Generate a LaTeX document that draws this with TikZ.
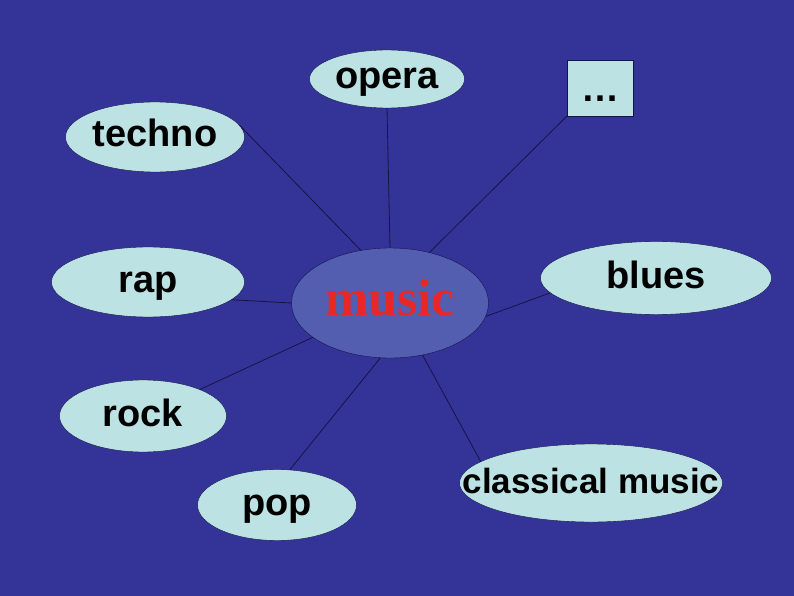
\documentclass[tikz,border=0pt]{standalone}
\usepackage{fontspec}
\setmainfont{Liberation Sans}
\newfontfamily\serifbold{Liberation Serif}
\usetikzlibrary{shapes.geometric,positioning}
\definecolor{bgcol}{RGB}{52,52,152}
\definecolor{leafcol}{RGB}{188,226,228}
\definecolor{hubcol}{RGB}{84,94,176}
\definecolor{hubtext}{RGB}{232,40,40}
\definecolor{edgecol}{RGB}{20,20,70}
\newcommand\tag[1]{\makebox[0pt]{#1}}

\begin{document}
\begin{tikzpicture}[
   x=1pt, y=-1pt,
   leaf/.style={ellipse, draw=edgecol, fill=leafcol, inner sep=0pt,
                text height=20pt, text depth=0pt,
                font=\fontsize{38}{40}\selectfont\bfseries, text=black},
   link/.style={draw=edgecol, line width=0.8pt},
]
% background
\fill[bgcol] (0,0) rectangle (794,596);
\useasboundingbox (0,0) rectangle (794,596);
% hub
\node[ellipse, draw=edgecol, fill=hubcol, minimum width=197, minimum height=110,
      inner sep=0pt, text height=24pt, text depth=0pt, text=hubtext,
      font=\fontsize{52}{54}\serifbold\bfseries] (music) at (390,303) {\tag{music}};
% leaves
\node[leaf, minimum width=155, minimum height=58] (opera) at (387,79) {\tag{opera}};
\node[leaf, minimum width=179, minimum height=70] (techno) at (155,137) {\tag{techno}};
\node[draw=edgecol, fill=leafcol, minimum width=66, minimum height=56, inner sep=0pt,
      text height=0pt, text depth=0pt,
      font=\fontsize{38}{40}\selectfont\bfseries] (more) at (600,88) {\raisebox{-14pt}[0pt][0pt]{\tag{\ldots}}};
\node[leaf, minimum width=193, minimum height=70] (rap) at (148,282) {\tag{rap}};
\node[leaf, minimum width=231, minimum height=73] (blues) at (656,278) {\tag{blues}};
\node[leaf, minimum width=167, minimum height=72] (rock) at (143,416) {\tag{rock}};
\node[leaf, minimum width=263, minimum height=78, font=\fontsize{35}{37}\selectfont\bfseries] (classical) at (591,483) {\tag{classical music}};
\node[leaf, minimum width=159, minimum height=71] (pop) at (277,505) {\tag{pop}};
% edges
\draw[link] (music.119) -- (techno.8);
\draw[link] (music.90) -- (opera.270);
\draw[link] (music.52) -- (more.south west);
\draw[link] (music.180) -- (rap.-12);
\draw[link] (music.-8) -- (blues.188);
\draw[link] (music.204) -- (rock.25);
\draw[link] (music.260) -- (pop.70);
\draw[link] (music.302) -- (classical.169);
\end{tikzpicture}
\end{document}
